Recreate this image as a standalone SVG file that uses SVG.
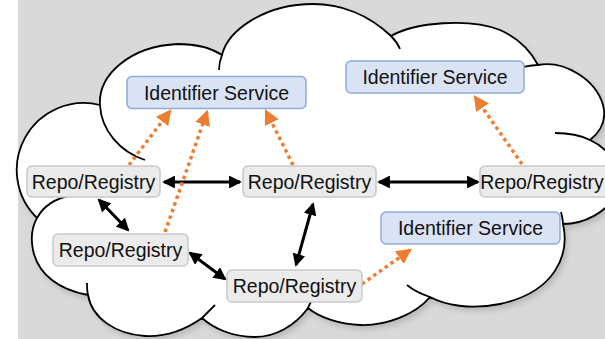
<svg xmlns="http://www.w3.org/2000/svg" width="605" height="339" viewBox="0 0 605 339">
<style>
.cl{fill:#fff;stroke:#000;stroke-width:1.8;stroke-linejoin:round}
.tk{fill:none;stroke:#000;stroke-width:1.8}
.rr{fill:#ebebeb;stroke:#c9c9c9;stroke-width:1.5}
.is{fill:#dae3f3;stroke:#8eaadb;stroke-width:1.5}
text{font-family:"Liberation Sans",Arial,sans-serif;font-size:19.5px;fill:#111;text-anchor:middle}
.bk{fill:none;stroke:#000;stroke-width:3}
.or{fill:none;stroke:#ed7d31;stroke-width:3.5;stroke-dasharray:3.5 3.5}
</style>
<defs>
<marker id="mb" viewBox="0 0 10 10" refX="8.5" refY="5" markerWidth="4.3" markerHeight="4.3" orient="auto-start-reverse" markerUnits="strokeWidth"><path d="M0,0 L10,5 L0,10 z" fill="#000"/></marker>
<marker id="mo" viewBox="0 0 10 10" refX="8.5" refY="5" markerWidth="4.4" markerHeight="4.4" orient="auto" markerUnits="strokeWidth"><path d="M0,0 L10,5 L0,10 z" fill="#ed7d31"/></marker>
<filter id="sh" x="-10%" y="-10%" width="120%" height="120%"><feGaussianBlur stdDeviation="3"/></filter>
<path id="cloud" d="M37,218 A67,67 0 0 1 100,105 C98,75 130,46 178,44 C197,44 211,48 222,55 C228,30 265,4 313,4 C340,4 368,14 391,36 C415,22 470,18 500,30 C518,38 530,50 538,65 C565,60 596,80 603,105 C607,120 600,132 590,140 C612,150 626,175 616,195 C606,212 585,224 563,224 C570,255 555,292 500,304 C470,310 445,305 430,297 C415,315 385,326 360,325 C340,324 320,318 308,308 C295,326 275,337 255,337 C232,337 213,328 202,318 C185,330 165,337 145,336 C115,334 92,318 88,295 C60,290 38,275 33,250 C30,235 33,225 37,218 Z"/>
</defs>
<rect x="0" y="0" width="605" height="339" fill="#fff"/>
<rect x="18" y="0" width="587" height="339" fill="#d9d9d9"/>
<g id="cloud-shape">
<use href="#cloud" transform="translate(3,4)" fill="#9a9a9a" opacity="0.55" filter="url(#sh)"/>
<use href="#cloud" class="cl"/>
<path class="tk" d="M37,218 C44,205 57,198 72,195 M100,105 C101,130 120,152 145,160 M222,55 C220,60 219,65 219,70 M391,36 C395,40 398,44 400,49 M523,67 C528,66 533,65 538,65 M555,133 C570,133 582,136 590,140 M563,224 C563,220 562,216 561,212 M407,285 C413,290 421,294 430,297 M308,308 C309,305 311,302 312,300 M202,318 C207,313 211,309 215,305 M88,295 C87,291 87,287 87,283"/>
</g>
<g id="connectors">
<line class="bk" x1="164" y1="182" x2="240" y2="182" marker-start="url(#mb)" marker-end="url(#mb)"/>
<line class="bk" x1="379" y1="182" x2="478" y2="182" marker-start="url(#mb)" marker-end="url(#mb)"/>
<line class="bk" x1="99" y1="200" x2="128" y2="230" marker-start="url(#mb)" marker-end="url(#mb)"/>
<line class="bk" x1="190" y1="253" x2="225" y2="279" marker-start="url(#mb)" marker-end="url(#mb)"/>
<line class="bk" x1="313" y1="204" x2="296" y2="265" marker-start="url(#mb)" marker-end="url(#mb)"/>
<line class="or" x1="129" y1="165" x2="170" y2="111" marker-end="url(#mo)"/>
<line class="or" x1="165" y1="232" x2="207" y2="112" marker-end="url(#mo)"/>
<line class="or" x1="293" y1="165" x2="266" y2="111" marker-end="url(#mo)"/>
<line class="or" x1="522" y1="164" x2="475" y2="97" marker-end="url(#mo)"/>
<line class="or" x1="362" y1="284" x2="410" y2="250" marker-end="url(#mo)"/>
</g>
<g id="is1"><rect class="is" x="127" y="76.5" width="179" height="32" rx="5"/><text x="216.5" y="99.5">Identifier Service</text></g>
<g id="is2"><rect class="is" x="346" y="61" width="178" height="32" rx="5"/><text x="435" y="84">Identifier Service</text></g>
<g id="is3"><rect class="is" x="381" y="212" width="179" height="32" rx="5"/><text x="470.5" y="235">Identifier Service</text></g>
<g id="rrA"><rect class="rr" x="27" y="166" width="133" height="31" rx="5"/><text x="93.5" y="188.5">Repo/Registry</text></g>
<g id="rrB"><rect class="rr" x="243" y="166" width="133" height="31" rx="5"/><text x="309.5" y="188.5">Repo/Registry</text></g>
<g id="rrC"><rect class="rr" x="480" y="166" width="133" height="31" rx="5"/><text x="542" y="188.5">Repo/Registry</text></g>
<g id="rrD"><rect class="rr" x="53" y="234" width="135" height="32" rx="5"/><text x="120.5" y="257">Repo/Registry</text></g>
<g id="rrE"><rect class="rr" x="227" y="270" width="135" height="32" rx="5"/><text x="294.5" y="293">Repo/Registry</text></g>
</svg>
